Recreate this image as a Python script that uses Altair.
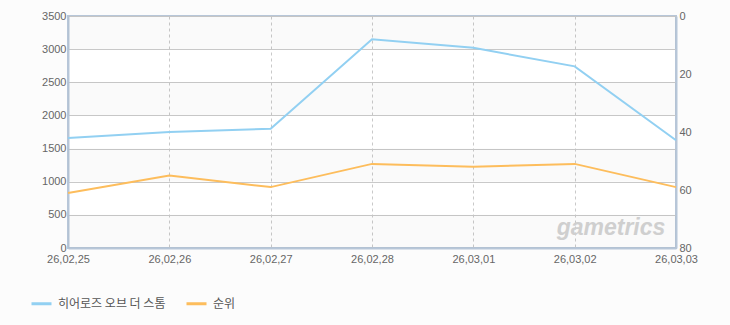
import altair as alt
import pandas as pd

dates = ["26,02,25", "26,02,26", "26,02,27", "26,02,28", "26,03,01", "26,03,02", "26,03,03"]
players = [1660, 1750, 1800, 3150, 3020, 2740, 1625]
ranks = [61, 55, 59, 51, 52, 51, 59]
series_names = ["히어로즈 오브 더 스톰", "순위"]
series_colors = ["#92d0f2", "#fdbd5c"]
band_starts = [0, 1000, 2000, 3000]
band_ends = [500, 1500, 2500, 3500]
left_ticks = [0, 500, 1000, 1500, 2000, 2500, 3000, 3500]
right_ticks = [0, 20, 40, 60, 80]

df_players = pd.DataFrame({"date": dates, "value": players, "series": series_names[0]})
df_ranks = pd.DataFrame({"date": dates, "value": ranks, "series": series_names[1]})
df_bands = pd.DataFrame({"value": band_starts, "y1": band_ends})
df_mark = pd.DataFrame({"t": ["gametrics"]})

FONT = "Liberation Sans"
LBL = "#666666"
GRID = "#c9c9c9"
FRAME = "#b7c6d8"

color = alt.Color(
    "series:N",
    scale=alt.Scale(domain=series_names, range=series_colors),
    legend=alt.Legend(
        title=None, orient="none", legendX=-38, legendY=276, direction="horizontal",
        symbolType="stroke", symbolSize=400, symbolStrokeWidth=3,
        labelFont="Noto Sans CJK KR", labelFontSize=12, labelColor="#555555",
        labelOffset=5, columnPadding=14, padding=0,
    ),
)

xenc = alt.X(
    "date:N", sort=dates, scale=alt.Scale(padding=0),
    axis=alt.Axis(
        title=None, labelAngle=0, tickSize=0, labelPadding=5, labelFont=FONT,
        labelFontSize=11, labelColor=LBL, labelOverlap=False, labelFlush=False,
        domainColor=FRAME, domainWidth=2, grid=True, gridColor=GRID, gridDash=[3, 3],
    ),
)

left_axis = alt.Axis(
    title=None, values=left_ticks, format="d", tickSize=0, labelPadding=2, labelFont=FONT,
    labelFontSize=11, labelColor=LBL, domainColor=FRAME, domainWidth=2,
    grid=True, gridColor=GRID,
)
left_scale = alt.Scale(domain=[0, 3500], nice=False, zero=True)

bands = alt.Chart(df_bands).mark_rect(color="#000000", opacity=0.018).encode(
    y=alt.Y("value:Q", scale=left_scale, axis=left_axis),
    y2="y1:Q",
)

blue = alt.Chart(df_players).mark_line(strokeWidth=2).encode(
    x=xenc,
    y=alt.Y("value:Q", scale=left_scale, axis=left_axis),
    color=color,
)

watermark = alt.Chart(df_mark).mark_text(
    font="Liberation Sans", fontSize=23, fontStyle="italic", fontWeight="bold",
    color="#cfcfcf", align="center", baseline="middle",
).encode(text="t:N", x=alt.value(543), y=alt.value(212))

left = alt.layer(bands, watermark, blue)

orange = alt.Chart(df_ranks).mark_line(strokeWidth=2).encode(
    x=xenc,
    y=alt.Y(
        "value:Q", scale=alt.Scale(domain=[0, 80], reverse=True, nice=False),
        axis=alt.Axis(
            title=None, orient="right", values=right_ticks, tickSize=0, labelPadding=3,
            labelFont=FONT, labelFontSize=11, labelColor=LBL, domainColor=FRAME,
            domainWidth=2, grid=False,
        ),
    ),
    color=color,
)

chart = alt.layer(left, orange).resolve_scale(y="independent").properties(
    width=608, height=232, background="#fcfcfc",
    autosize=alt.AutoSizeParams(type="none"),
    padding={"left": 68, "top": 16, "right": 54, "bottom": 77},
).configure_view(fill="#ffffff", stroke=FRAME, strokeWidth=2)

chart.save("out.html", embed_options={"renderer": "svg", "actions": False})
